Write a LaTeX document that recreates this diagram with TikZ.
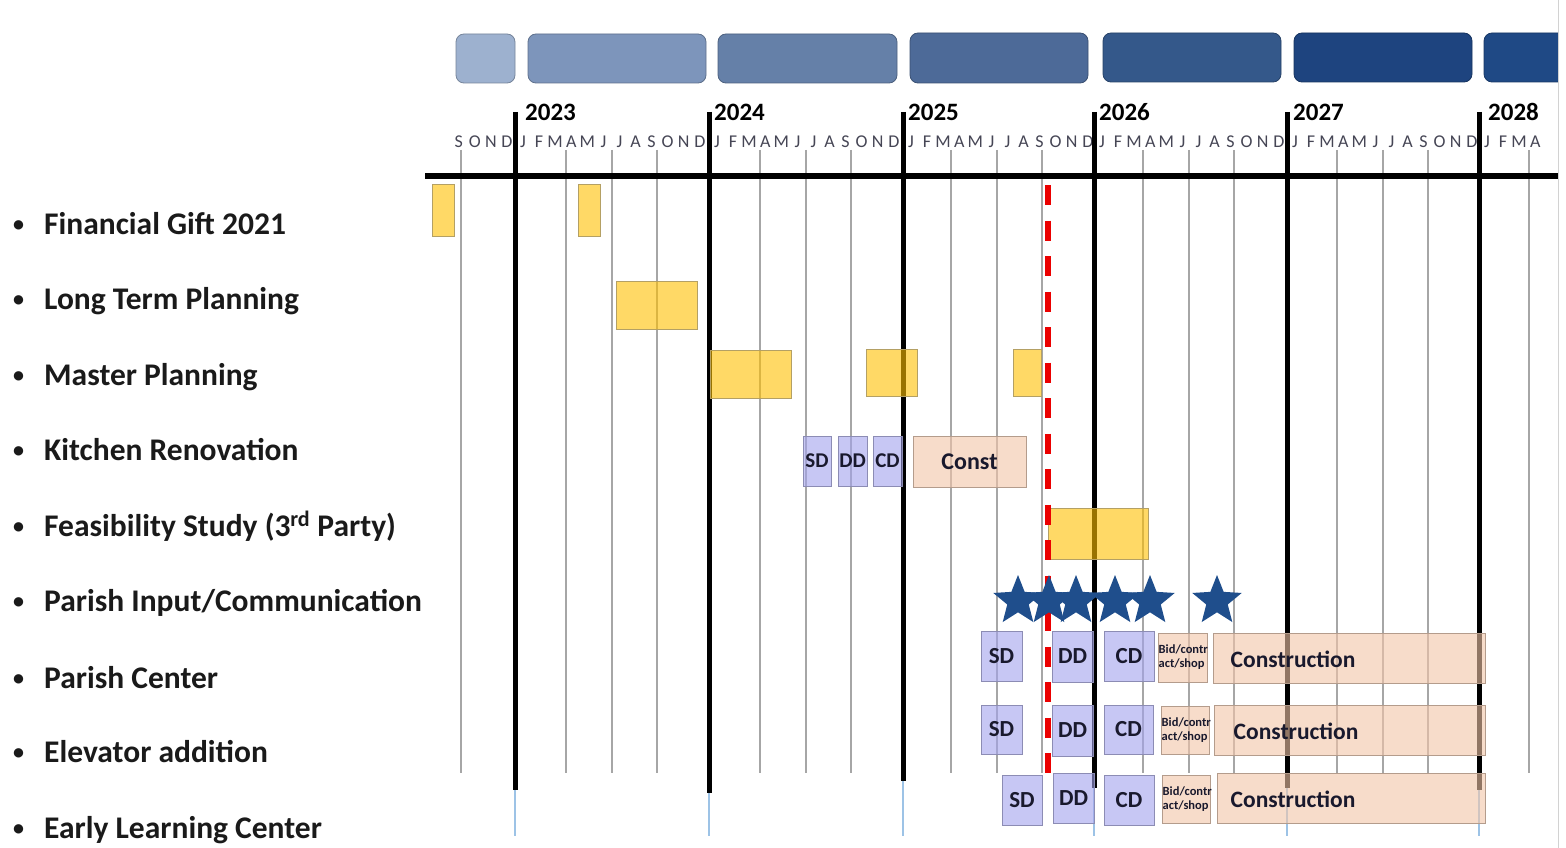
\documentclass[tikz,border=0pt]{standalone}
\usepackage{fontspec}
\setmainfont{Carlito}
\usetikzlibrary{shapes.geometric}
\definecolor{hbA}{RGB}{157,177,207}
\definecolor{hbB}{RGB}{125,149,187}
\definecolor{hbC}{RGB}{101,128,168}
\definecolor{hbD}{RGB}{77,106,152}
\definecolor{hbE}{RGB}{52,88,138}
\definecolor{hbF}{RGB}{30,68,127}
\definecolor{hbG}{RGB}{31,73,133}
\definecolor{gold}{RGB}{255,192,0}
\definecolor{goldline}{RGB}{180,160,100}
\definecolor{lav}{RGB}{163,163,238}
\definecolor{lavline}{RGB}{140,140,180}
\definecolor{peach}{RGB}{243,197,168}
\definecolor{peachline}{RGB}{180,156,140}
\definecolor{gridgrey}{RGB}{166,166,166}
\definecolor{monthcol}{RGB}{70,70,85}
\definecolor{labelcol}{RGB}{26,26,26}
\definecolor{boxtext}{RGB}{25,25,45}
\definecolor{starblue}{RGB}{31,78,140}
\definecolor{tailblue}{RGB}{157,195,230}
\definecolor{redline}{RGB}{235,0,0}
\newcommand\tlbox[7]{\node[#2, minimum width={(#5)-(#3)}, minimum height={(#6)-(#4)}] (#1) at ({((#3)+(#5))/2},{((#4)+(#6))/2}) {#7};}
\tikzset{
  hbox/.style={draw=#1!75!black, fill=#1, rounded corners=8pt, line width=0.8pt, inner sep=0pt},
  ybox/.style={draw=goldline, fill=gold, fill opacity=0.6, text opacity=1, line width=1pt, inner sep=0pt},
  lbox/.style={draw=lavline, fill=lav, fill opacity=0.6, text opacity=1, line width=1pt, inner sep=0pt, text=boxtext, font=\fontsize{23}{26}\selectfont\bfseries},
  lboxk/.style={lbox, font=\fontsize{21}{24}\selectfont\bfseries},
  pbox/.style={draw=peachline, fill=peach, fill opacity=0.6, text opacity=1, line width=1pt, inner sep=0pt, text=boxtext, font=\fontsize{24}{27}\selectfont\bfseries},
  ctext/.style={anchor=west, inner sep=0pt, text=boxtext, font=\fontsize{23.5}{27}\selectfont\bfseries},
  btext/.style={anchor=west, inner sep=0pt, align=left, text=boxtext, font=\fontsize{12.5}{14}\selectfont\bfseries},
  lbl/.style={anchor=base west, inner sep=0pt, text=labelcol, font=\fontsize{31.5}{36}\selectfont\bfseries},
  bul/.style={anchor=base west, inner sep=0pt, text=labelcol, font=\fontsize{22}{26}\selectfont\bfseries},
  yr/.style={anchor=base west, inner sep=0pt, text=black, font=\fontsize{25}{30}\selectfont\bfseries},
  mon/.style={anchor=base, inner sep=0pt, text=monthcol, font=\fontsize{18}{21}\selectfont},
  qline/.style={draw=gridgrey, line width=2pt},
  yline/.style={draw=black, line width=5pt},
  tline/.style={draw=tailblue, line width=1.2pt},
  starnode/.style={star, star points=5, star point ratio=2.3, minimum size=52pt, inner sep=0pt, fill=starblue},
}
\begin{document}
\begin{tikzpicture}[x=1pt,y=-1pt]
\useasboundingbox (0,0) rectangle (1566,848);
\fill[white] (0,0) rectangle (1566,848);

\begin{scope}
\clip (0,0) rectangle (1558,848);
% header blocks
\tlbox{h1}{hbox=hbA}{456}{34}{515}{83}{}
\tlbox{h2}{hbox=hbB}{528}{34}{706}{83}{}
\tlbox{h3}{hbox=hbC}{718}{34}{897}{83}{}
\tlbox{h4}{hbox=hbD}{910}{33}{1088}{83}{}
\tlbox{h5}{hbox=hbE}{1103}{33}{1281}{82}{}
\tlbox{h6}{hbox=hbF}{1294}{33}{1472}{82}{}
\tlbox{h7}{hbox=hbG}{1484}{33}{1600}{82}{}

% year labels
\node[yr] (y23) at (525,121) {2023};
\node[yr] (y24) at (714,121) {2024};
\node[yr] (y25) at (908,121) {2025};
\node[yr] (y26) at (1099,121) {2026};
\node[yr] (y27) at (1293,121) {2027};
\node[yr] (y28) at (1488,121) {2028};

% month letters
\foreach \l [count=\m from 0] in {S,O,N,D}
  \node[mon] (m22-\m) at ({515-(3.5-\m)*16.07},147) {\l};
\foreach \yx/\yn in {515/23,709/24,903/25,1094/26,1287/27}
  \foreach \l [count=\m from 0] in {J,F,M,A,M,J,J,A,S,O,N,D}
    \node[mon] (m\yn-\m) at ({\yx+(\m+0.5)*16.07},147) {\l};
\foreach \l [count=\m from 0] in {J,F,M,A}
  \node[mon] (m28-\m) at ({1479+(\m+0.5)*16.07},147) {\l};

% quarter lines
\foreach \qx in {461,566,612,657,760,806,851,951,997,1042,1143,1189,1234,1337,1383,1428,1529}
  \draw[qline] (\qx,150) -- (\qx,773);

% year lines
\foreach \yx/\ye in {515/790,709/793,903/781,1094/788,1287/788,1479/790}{
  \draw[yline] (\yx,112) -- (\yx,\ye);
  \draw[tline] (\yx,\ye) -- (\yx,836);
}

% axis
\draw[black, line width=6pt] (425,176) -- (1558,176);
\end{scope}

% row labels
\foreach \ty/\txt [count=\i] in {234/{Financial Gift 2021},309/{Long Term Planning},385/{Master Planning},460/{Kitchen Renovation},536/{Feasibility Study (3\textsuperscript{rd} Party)},611/{Parish Input/Communication},688/{Parish Center},762/{Elevator addition},838/{Early Learning Center}}{
  \node[bul] (b\i) at (13,{\ty-3}) {\textbullet};
  \node[lbl] (l\i) at (44,\ty) {\txt};
}

% Financial Gift
\tlbox{fg1}{ybox}{432}{184}{454}{236}{}
\tlbox{fg2}{ybox}{578}{184}{600}{236}{}
% Long term planning
\tlbox{ltp}{ybox}{616}{281}{697}{329}{}
% Master planning
\tlbox{mp1}{ybox}{710}{350}{791}{398}{}
\tlbox{mp2}{ybox}{866}{349}{917}{396}{}
\tlbox{mp3}{ybox}{1013}{349}{1041}{396}{}
% Kitchen
\tlbox{k-sd}{lboxk}{803}{436}{831}{486}{SD}
\tlbox{k-dd}{lboxk}{838}{436}{867}{486}{DD}
\tlbox{k-cd}{lboxk}{873}{436}{902}{486}{CD}
\tlbox{k-co}{pbox}{913}{436}{1026}{487}{Const}
% Feasibility
\tlbox{fs}{ybox}{1048}{508}{1148}{559}{}

% Parish Center
\tlbox{pc-sd}{lbox}{981}{631}{1022}{681}{SD}
\tlbox{pc-dd}{lbox}{1052}{631}{1093}{682}{\raisebox{-4pt}{DD}}
\tlbox{pc-cd}{lbox}{1104}{631}{1154}{681}{CD}
\tlbox{pc-bid}{pbox}{1158}{633}{1207}{682}{}
\tlbox{pc-con}{pbox}{1213}{633}{1485}{683}{}
\node[btext] (pc-bt) at ([xshift=1pt]pc-bid.west) {Bid/contr\\act/shop};
\node[ctext] (pc-ct) at ([xshift=18pt,yshift=-1pt]pc-con.west) {Construction};

% Elevator
\tlbox{el-sd}{lbox}{981}{705}{1022}{754}{SD}
\tlbox{el-dd}{lbox}{1052}{705}{1093}{756}{\raisebox{-4pt}{DD}}
\tlbox{el-cd}{lbox}{1104}{705}{1153}{754}{CD}
\tlbox{el-bid}{pbox}{1161}{706}{1209}{754}{}
\tlbox{el-con}{pbox}{1214}{705}{1485}{755}{}
\node[btext] (el-bt) at ([xshift=1pt]el-bid.west) {Bid/contr\\act/shop};
\node[ctext] (el-ct) at ([xshift=20pt,yshift=-1pt]el-con.west) {Construction};

% Early Learning Center
\tlbox{ec-sd}{lbox}{1002}{775}{1042}{825}{SD}
\tlbox{ec-dd}{lbox}{1053}{773}{1094}{823}{\raisebox{-4pt}{DD}}
\tlbox{ec-cd}{lbox}{1104}{775}{1154}{825}{\raisebox{-2pt}{CD}}
\tlbox{ec-bid}{pbox}{1162}{775}{1210}{823}{}
\tlbox{ec-con}{pbox}{1217}{773}{1485}{823}{}
\node[btext] (ec-bt) at ([xshift=1pt]ec-bid.west) {Bid/contr\\act/shop};
\node[ctext] (ec-ct) at ([xshift=14pt,yshift=-1pt]ec-con.west) {Construction};

% today line
\coordinate (rt) at (1048,185);
\coordinate (rb) at (1048,778);
\draw[redline, line width=6pt, dash pattern=on 20pt off 15.5pt] (rt) -- (rb);

% parish input stars
\foreach \sx [count=\i] in {1018,1049,1076,1115,1150,1217}
  \node[starnode] (s\i) at (\sx,601) {};

% right frame line
\draw[gray!35, line width=1pt] (1558,0) -- (1558,848);
\end{tikzpicture}
\end{document}
